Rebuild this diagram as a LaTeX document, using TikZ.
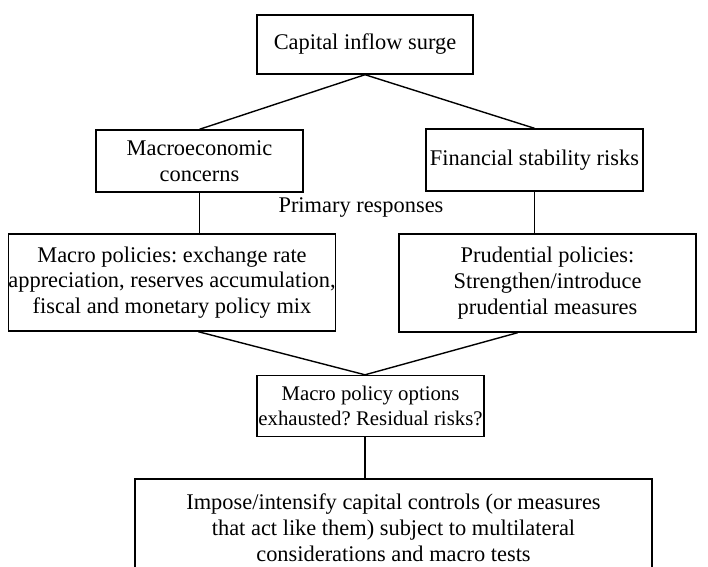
\documentclass[tikz,border=0pt]{standalone}
\usepackage{fontspec}
\setmainfont{Liberation Serif}
\usetikzlibrary{calc}
\frenchspacing
\tikzset{
  box/.style={draw=black, line width=0.7pt, fill=white, inner sep=0pt, align=center,
    font=\fontsize{11.2pt}{12.9pt}\selectfont},
  conn/.style={draw=black, line width=0.7pt},
  lbl/.style={inner sep=0pt, font=\fontsize{11.2pt}{12.9pt}\selectfont}
}
\begin{document}
\begin{tikzpicture}[x=0.5pt, y=-0.5pt]
\useasboundingbox (0,0) rectangle (708,567);
\fill[white] (0,0) rectangle (708,567);
\clip (0,0) rectangle (708,567);

\node[box, minimum width=108pt, minimum height=29.5pt] (top) at (365,44.5) {Capital inflow surge};
\node[box, minimum width=103.5pt, minimum height=31pt] (mac) at (199.5,161) {Macroeconomic\\concerns};
\node[box, minimum width=108.5pt, minimum height=31pt] (fin) at (534.5,160) {Financial stability risks};
\node[lbl] (prim) at (361,208) {Primary responses};
\node[box, minimum width=160pt, minimum height=48.5pt] (mpol) at (172,282.5) {Macro policies: exchange rate\\appreciation, reserves accumulation,\\fiscal and monetary policy mix};
\node[box, minimum width=148.5pt, minimum height=49pt] (ppol) at (547.5,283) {Prudential policies:\\Strengthen/introduce\\prudential measures};
\node[box, minimum width=113.5pt, minimum height=30.5pt, font=\fontsize{10.4pt}{12.9pt}\selectfont] (opt) at (370.5,406) {Macro policy options\\exhausted? Residual risks?};
\node[box, minimum width=258.5pt, minimum height=49pt] (bot) at (393.5,528) {Impose/intensify capital controls (or measures\\that act like them) subject to multilateral\\considerations and macro tests};

\draw[conn] (top.south) -- (mac.north);
\draw[conn] (top.south) -- (fin.north);
\draw[conn] (mac.south) -- (mac.south |- mpol.north);
\draw[conn] (fin.south) -- (fin.south |- ppol.north);
\draw[conn] ($(mpol.south west)!0.58!(mpol.south east)$) -- (opt.north -| top.south);
\draw[conn] ($(ppol.south west)!0.4!(ppol.south east)$) -- (opt.north -| top.south);
\draw[conn] (opt.south -| top.south) -- (bot.north -| top.south);
\end{tikzpicture}
\end{document}
